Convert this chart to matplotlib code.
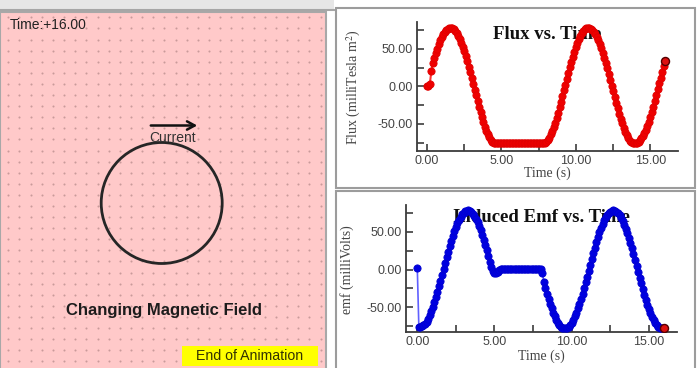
import numpy as np
import matplotlib
matplotlib.use('Agg')
import matplotlib.pyplot as plt
from matplotlib.patches import Rectangle, Circle

plt.rcParams['font.family'] = ['Liberation Sans', 'DejaVu Sans']
plt.rcParams['mathtext.fontset'] = 'stix'

# sampled time (s), one sample every 0.1 s
time_s = np.linspace(0, 16, 161)

# flux (milliTesla m^2)
flux = [0.0, 0.5, 3.0, 20.0, 30.4, 37.4, 44.0, 50.2, 56.0, 61.1, 65.6,
        69.5, 72.7, 75.2, 76.9, 77.8, 78.0, 77.4, 76.0, 73.8, 70.9,
        67.3, 63.0, 58.2, 52.7, 46.7, 40.2, 33.3, 26.1, 18.6, 11.0,
        3.2, -4.6, -12.3, -20.0, -27.4, -34.5, -41.4, -47.7, -53.7, -59.0,
        -63.8, -68.0, -71.5, -74.2, -75.5, -75.5, -75.5, -75.5, -75.5, -75.5,
        -75.5, -75.5, -75.5, -75.5, -75.5, -75.5, -75.5, -75.5, -75.5, -75.5,
        -75.5, -75.5, -75.5, -75.5, -75.5, -75.5, -75.5, -75.5, -75.5, -75.5,
        -75.5, -75.5, -75.5, -75.5, -75.5, -75.5, -75.5, -75.5, -75.5, -74.5,
        -71.8, -68.4, -64.3, -59.6, -54.3, -48.4, -42.1, -35.3, -28.2, -20.8,
        -13.2, -5.5, 2.3, 10.1, 17.8, 25.3, 32.5, 39.4, 45.9, 52.0,
        57.5, 62.5, 66.9, 70.5, 73.5, 75.8, 77.2, 77.9, 77.9, 77.0,
        75.3, 73.0, 69.9, 66.1, 61.7, 56.6, 50.9, 44.8, 38.2, 31.2,
        23.9, 16.4, 8.7, 0.9, -6.9, -14.6, -22.2, -29.5, -36.5, -43.2,
        -49.5, -55.2, -60.5, -65.2, -69.2, -72.5, -74.6, -75.4, -75.7, -75.8,
        -75.3, -74.0, -72.0, -69.5, -66.5, -62.8, -58.4, -53.2, -47.4, -41.0,
        -34.2, -27.0, -19.5, -11.9, -4.1, 3.7, 11.4, 19.1, 26.6, 33.8]

# induced emf (milliVolts)
emf = [1.5, -75.5, -75.5, -75.0, -74.0, -72.4, -69.2, -65.2, -60.7, -55.5, -49.7,
       -43.5, -36.7, -29.7, -22.4, -14.8, -7.1, 0.7, 8.5, 16.2, 23.7,
       31.0, 38.1, 44.7, 50.9, 56.5, 61.6, 66.1, 69.9, 73.0, 75.3,
       77.0, 77.9, 78.0, 77.3, 75.8, 73.6, 70.6, 67.0, 62.7, 57.7,
       52.2, 46.1, 39.6, 32.8, 25.6, 18.2, 10.5, 2.8, -2.0, -4.5,
       -5.0, -3.0, 0.0, 1.0, 1.0, 1.0, 1.0, 1.0, 1.0, 1.0,
       1.0, 1.0, 1.0, 1.0, 1.0, 1.0, 1.0, 1.0, 1.0, 1.0,
       1.0, 1.0, 1.0, 1.0, 1.0, 1.0, 1.0, 1.0, 1.0, 1.0,
       -4.0, -17.1, -24.6, -31.9, -38.8, -45.4, -51.5, -57.1, -62.1, -66.5,
       -70.2, -73.3, -75.6, -77.1, -77.9, -77.9, -77.1, -75.6, -73.3, -70.2,
       -66.5, -62.1, -57.1, -51.5, -45.4, -38.8, -31.9, -24.6, -17.1, -9.4,
       -1.6, 6.2, 13.9, 21.5, 28.9, 36.0, 42.7, 49.0, 54.8, 60.1,
       64.8, 68.8, 72.1, 74.7, 76.6, 77.7, 78.0, 77.5, 76.3, 74.3,
       71.6, 68.2, 64.1, 59.3, 54.0, 48.1, 41.8, 35.0, 27.9, 20.5,
       12.8, 5.1, -2.8, -10.6, -18.3, -25.8, -33.1, -40.0, -46.4, -52.3,
       -58.0, -62.9, -67.2, -70.8, -73.7, -75.9, -77.3, -77.9, -77.8, -76.9]

x_ticks = [0, 2.5, 5, 7.5, 10, 12.5, 15]
x_labels = ['0.00', '', '5.00', '', '10.00', '', '15.00']
y_ticks = [-75, -50, -25, 0, 25, 50, 75]
y_labels = ['', '-50.00', '', '0.00', '', '50.00', '']

fig = plt.figure(figsize=(7, 3.68), dpi=100)

# background: simulation panel on the left, boxes on the right (pixel coords)
bg = fig.add_axes([0, 0, 1, 1])
bg.set_xlim(0, 700)
bg.set_ylim(368, 0)
bg.axis('off')

bg.add_patch(Rectangle((0, 0), 334, 9.5, fc='#e6e6e6', ec='none'))
bg.plot([0, 334], [10, 10], color='#a6a6a6', lw=1.5)
bg.add_patch(Rectangle((0, 11.5), 326, 360, fc='#ffc9c9', ec='#a8a8a8', lw=1.5))
gx, gy = np.meshgrid(np.arange(8.3, 322, 11.15), np.arange(17.3, 366, 11.1))
bg.scatter(gx.ravel(), gy.ravel(), s=2.2, c='#c99a9a', lw=0)

bg.add_patch(Rectangle((336, 8), 359, 180, fc='white', ec='#9c9c9c', lw=1.5))
bg.add_patch(Rectangle((336, 191), 359, 180, fc='white', ec='#9c9c9c', lw=1.5))

bg.text(10, 25, 'Time:+16.00', fontsize=10, color='#222222', va='center')
bg.annotate('', xy=(200, 125.5), xytext=(148, 125.5),
            arrowprops=dict(arrowstyle='->,head_length=0.55,head_width=0.3',
                            lw=1.8, color='#111111'))
bg.text(173, 137.5, 'Current', fontsize=10, color='#333333', ha='center', va='center')
bg.add_patch(Circle((161.7, 203), 60.5, fill=False, ec='#262626', lw=2))
bg.text(164, 310, 'Changing Magnetic Field', fontsize=12, fontweight='bold',
        color='#1c1c1c', ha='center', va='center')
bg.add_patch(Rectangle((181.5, 346), 136, 20, fc='#ffff00', ec='none'))
bg.text(249.5, 356.5, 'End of Animation', fontsize=10.2, color='#333300',
        ha='center', va='center')


def style(ax, xlim, ylim):
    ax.set_facecolor('none')
    ax.set_xlim(*xlim)
    ax.set_ylim(*ylim)
    for side in ['top', 'right']:
        ax.spines[side].set_visible(False)
    for side in ['left', 'bottom']:
        ax.spines[side].set_color('#3c3c3c')
        ax.spines[side].set_linewidth(1.3)
    ax.set_xticks(x_ticks)
    ax.set_xticklabels(x_labels)
    ax.set_yticks(y_ticks)
    ax.set_yticklabels(y_labels)
    ax.tick_params(direction='in', length=5, width=1.2, color='#3c3c3c',
                   labelsize=9, labelcolor='#444444', pad=3)


serif = ['Liberation Serif', 'DejaVu Serif']

# upper chart: flux
ax1 = fig.add_axes([0.5953, 0.5897, 0.3733, 0.3514])
style(ax1, (-0.68, 16.85), (-86.3, 86.1))
ax1.plot(time_s, flux, color='#ff3030', lw=1.5, marker='o', ms=5.2,
         mfc='#ee0000', mec='#e00000', mew=0.6, zorder=3)
ax1.plot(time_s[-1], flux[-1], 'o', ms=5.8, mfc='#dd1010', mec='#550000',
         mew=1, zorder=4)
ax1.text(0.5, 0.9, 'Flux vs. Time', transform=ax1.transAxes, family=serif,
         fontsize=13.5, fontweight='bold', ha='center', va='center',
         color='#111111', zorder=1)
ax1.set_xlabel('Time (s)', family=serif, fontsize=10, color='#444444')
ax1.xaxis.label.set_va('center')
ax1.xaxis.set_label_coords(0.5, -0.17)
ax1.set_ylabel(r'Flux (milliTesla m$^{2}$)', family=serif, fontsize=10,
               color='#444444')
ax1.yaxis.label.set_va('center')
ax1.yaxis.set_label_coords(-0.24, 0.49)

# lower chart: induced emf
ax2 = fig.add_axes([0.5796, 0.097, 0.3871, 0.346])
style(ax2, (-0.75, 16.8), (-83, 85.3))
ax2.plot(time_s, emf, color='#6060ff', lw=1.2, marker='o', ms=5.2,
         mfc='#0000e0', mec='#0000d0', mew=0.6, zorder=3)
ax2.plot(time_s[-1], emf[-1], 'o', ms=5.8, mfc='#dd1010', mec='#550000',
         mew=1, zorder=4)
ax2.text(0.5, 0.9, 'Induced Emf vs. Time', transform=ax2.transAxes,
         family=serif, fontsize=13.5, fontweight='bold', ha='center',
         va='center', color='#111111', zorder=1)
ax2.set_xlabel('Time (s)', family=serif, fontsize=10, color='#444444')
ax2.xaxis.label.set_va('center')
ax2.xaxis.set_label_coords(0.5, -0.19)
ax2.set_ylabel('emf (milliVolts)', family=serif, fontsize=10, color='#444444')
ax2.yaxis.label.set_va('center')
ax2.yaxis.set_label_coords(-0.217, 0.49)

fig.savefig('out.png', dpi=100)
